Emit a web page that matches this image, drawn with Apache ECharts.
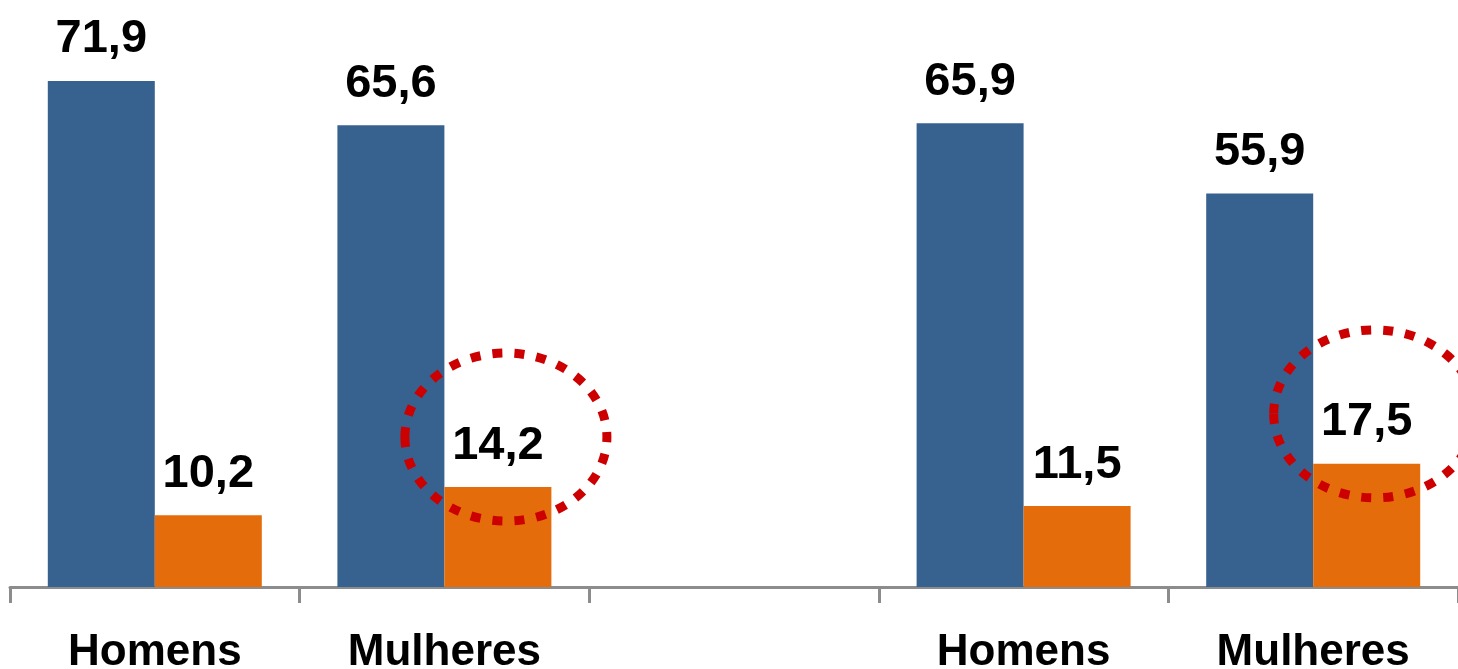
<!DOCTYPE html>
<html>
<head>
<meta charset="utf-8">
<script src="https://cdn.jsdelivr.net/npm/echarts@6/dist/echarts.min.js"></script>
<style>
  html, body { margin: 0; padding: 0; background: #fff; }
  #chart { width: 1458px; height: 669px; }
</style>
</head>
<body>
<div id="chart"></div>
<script>
  // categories (middle one is an empty spacer between the two groups)
  const categories = ['Homens', 'Mulheres', '', 'Homens', 'Mulheres'];
  const blueValues = [71.9, 65.6, null, 65.9, 55.9];
  const orangeValues = [10.2, 14.2, null, 11.5, 17.5];
  // points of the orange series that get a dotted red circle
  const circledIdx = [1, 4];

  const BAR_W = 107;
  const fmt = (p) => p.value == null ? '' : String(p.value).replace('.', ',');

  const labelStyle = {
    show: true,
    position: 'top',
    distance: 18,
    color: '#000',
    fontFamily: 'Liberation Sans, Arial, sans-serif',
    fontWeight: 'bold',
    fontSize: 47,
    formatter: fmt
  };

  const chart = echarts.init(document.getElementById('chart'));
  chart.setOption({
    animation: false,
    grid: { left: 10, right: 0, top: 24, bottom: 82, containLabel: false, outerBoundsMode: 'none' },
    xAxis: {
      type: 'category',
      data: categories,
      axisLine: { show: true, lineStyle: { color: '#8c8c8c', width: 3 } },
      axisTick: { show: true, length: 16, lineStyle: { color: '#8c8c8c', width: 3 } },
      axisLabel: {
        margin: 44,
        color: '#000',
        fontFamily: 'Liberation Sans, Arial, sans-serif',
        fontWeight: 'bold',
        fontSize: 44,
        interval: 0
      }
    },
    yAxis: {
      type: 'value',
      min: 0,
      max: 80,
      show: false,
      splitLine: { show: false }
    },
    series: [
      {
        type: 'bar',
        data: blueValues,
        barWidth: BAR_W,
        barGap: '0%',
        itemStyle: { color: '#37618f' },
        label: labelStyle
      },
      {
        type: 'bar',
        data: orangeValues,
        barWidth: BAR_W,
        itemStyle: { color: '#e46c0a' },
        label: labelStyle
      }
    ]
  });

  // dotted red ellipses around the highlighted orange values
  function drawCircles() {
    const graphics = circledIdx.map((i) => {
      const pt = chart.convertToPixel({ seriesIndex: 1 }, [i, orangeValues[i]]);
      // convertToPixel gives the category centre; orange bar sits half a bar to the right
      const cx = pt[0] + BAR_W / 2 + 8;
      return {
        type: 'ellipse',
        shape: { cx: cx, cy: pt[1] - 50, rx: 101, ry: 84 },
        style: { fill: 'none', stroke: '#cc0000', lineWidth: 9, lineDash: [10, 12] },
        z: 10
      };
    });
    chart.setOption({ graphic: graphics });
  }
  drawCircles();
</script>
</body>
</html>
